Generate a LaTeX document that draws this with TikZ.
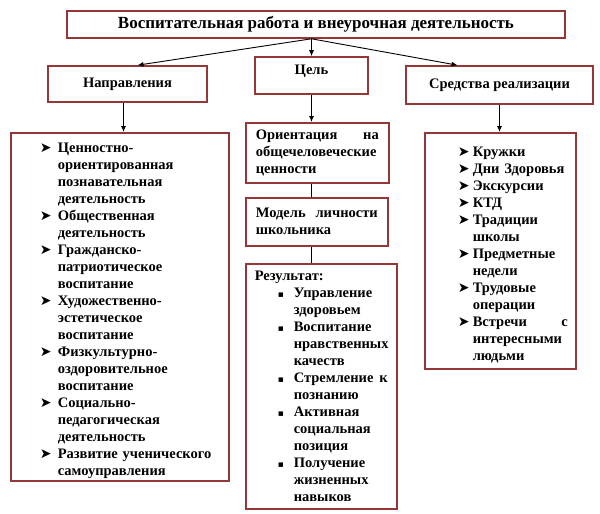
\documentclass[tikz,border=0pt]{standalone}
\usepackage{fontspec}
\setmainfont{Liberation Serif}
\newfontfamily\symfont{DejaVu Sans}
\usetikzlibrary{arrows.meta}

\definecolor{boxred}{RGB}{150,55,55}

% bullets and list items
\newlength{\bulind}
\newcommand{\bulA}{{\symfont\fontsize{14}{14}\selectfont ➤}}
\newcommand{\bulB}{{\symfont\fontsize{9}{9}\selectfont ▪}}
\newcommand{\itm}[2]{\par\hangindent=\bulind\hangafter=1\noindent\makebox[\bulind][l]{#1}#2\par}

\begin{document}
\begin{tikzpicture}[x=1pt,y=-1pt]

\tikzset{
  box/.style={draw=boxred, line width=1.6pt, fill=white, inner sep=0pt, align=center,
    font=\bfseries\fontsize{14.5}{17}\selectfont},
  listbox/.style={box, align=left, anchor=north west, inner ysep=0pt},
  arrow/.style={-{Latex[length=6pt,width=5pt]}, line width=0.9pt},
  link/.style={line width=0.9pt}
}

\useasboundingbox (0,0) rectangle (600,514);

% --------------------
% Top row
% --------------------
\node[box, minimum width=498pt, minimum height=27pt,
      font=\bfseries\fontsize{17}{19}\selectfont] (top) at (316,24.5)
  {Воспитательная работа и внеурочная деятельность};

\node[box, minimum width=159pt, minimum height=36pt] (nap) at (127.5,84) {Направления};
\node[box, minimum width=113pt, minimum height=37pt, text depth=12pt] (cel) at (311.5,75.5) {Цель};
\node[box, minimum width=187pt, minimum height=38pt] (sr) at (499.5,85) {Средства реализации};

% --------------------
% Left column: directions
% --------------------
\node[listbox, inner xsep=8pt, text width=202pt, minimum height=348pt] (lst) at (10,132) {%
  \setlength{\leftskip}{21pt}\setlength{\bulind}{18pt}%
  \itm{\bulA}{Ценностно-\newline ориентированная\newline познавательная\newline деятельность}
  \itm{\bulA}{Общественная\newline деятельность}
  \itm{\bulA}{Гражданско-\newline патриотическое\newline воспитание}
  \itm{\bulA}{Художественно-\newline эстетическое\newline воспитание}
  \itm{\bulA}{Физкультурно-\newline оздоровительное\newline воспитание}
  \itm{\bulA}{Социально-\newline педагогическая\newline деятельность}
  \itm{\bulA}{Развитие ученического\newline самоуправления}};

% --------------------
% Middle column: goal
% --------------------
\node[listbox, inner xsep=10pt, text width=123pt, minimum height=60pt] (ori) at (245,122)
  {Ориентация\hfill на\newline общечеловеческие\newline ценности};
\node[listbox, inner xsep=10pt, text width=122pt, minimum height=48pt] (mod) at (245,197)
  {Модель\hfill личности\newline школьника};
\node[listbox, inner xsep=9pt, text width=133pt, minimum height=245pt] (res) at (245,263) {%
  Результат:\par
  \setlength{\leftskip}{23pt}\setlength{\bulind}{16pt}%
  \itm{\bulB}{Управление\newline здоровьем}
  \itm{\bulB}{Воспитание\newline нравственных\newline качеств}
  \itm{\bulB}{Стремление\hfill к\newline познанию}
  \itm{\bulB}{Активная\newline социальная\newline позиция}
  \itm{\bulB}{Получение\newline жизненных\newline навыков}};

% --------------------
% Right column: means
% --------------------
\node[listbox, inner xsep=8pt, text width=135pt, minimum height=236pt] (rl) at (424,132) {%
  \setlength{\leftskip}{25pt}\setlength{\bulind}{15pt}%
  \itm{\bulA}{Кружки}
  \itm{\bulA}{Дни Здоровья}
  \itm{\bulA}{Экскурсии}
  \itm{\bulA}{КТД}
  \itm{\bulA}{Традиции\newline школы}
  \itm{\bulA}{Предметные\newline недели}
  \itm{\bulA}{Трудовые\newline операции}
  \itm{\bulA}{Встречи\hfill с\newline интересными\newline людьми}};

% --------------------
% Connectors
% --------------------
\coordinate (fork) at (cel.north |- top.south);
\draw[arrow] (fork) -- ([xshift=10pt]nap.north);
\draw[arrow] (fork) -- (cel.north);
\draw[arrow] (fork) -- ([xshift=-42pt]sr.north);

\draw[arrow] ([xshift=-4pt]nap.south) -- ([xshift=-4pt]nap.south |- lst.north);
\draw[arrow] (cel.south) -- (cel.south |- ori.north);
\draw[link] (cel.south |- ori.south) -- (cel.south |- mod.north);
\draw[link] (cel.south |- mod.south) -- (cel.south |- res.north);
\draw[arrow] (sr.south) -- (sr.south |- rl.north);

\end{tikzpicture}
\end{document}
